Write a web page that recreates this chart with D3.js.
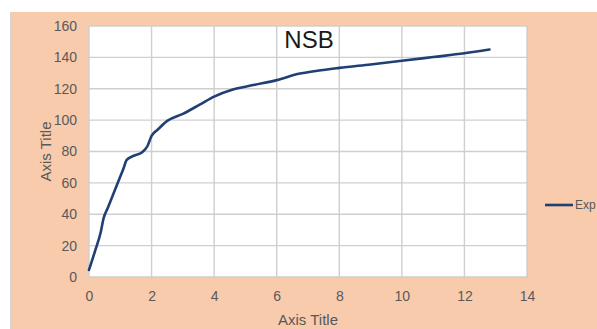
<!DOCTYPE html>
<html>
<head>
<meta charset="utf-8">
<script src="https://cdn.jsdelivr.net/npm/d3@7"></script>
<style>
  html, body { margin: 0; padding: 0; background: #ffffff; }
  svg { display: block; }
  text { font-family: "Liberation Sans Narrow", "Liberation Sans", sans-serif; fill: #595959; }
</style>
</head>
<body>
<svg id="chart" width="597" height="329"></svg>
<script>
// Series "Exp": x and y values along the curve
const expX = [0, 0.2, 0.38, 0.46, 0.6, 0.8, 1.0, 1.1, 1.2, 1.4, 1.7, 1.87, 2.0, 2.2, 2.5, 3.0, 3.55, 4.0, 4.6, 5.3, 6.0, 6.7, 7.3, 8.0, 9.0, 10.0, 11.0, 12.0, 12.8];
const expY = [4.5, 17, 29, 37, 44, 54, 64, 69, 74.5, 77, 79.5, 83.5, 90, 94, 99.5, 104, 110, 115, 119.5, 122.5, 125.5, 129.5, 131.5, 133.3, 135.5, 137.8, 140.2, 142.6, 145];

// Axis ticks
const xTicks = [0, 2, 4, 6, 8, 10, 12, 14];
const yTicks = [0, 20, 40, 60, 80, 100, 120, 140, 160];

const chartTitle = "NSB";
const xTitle = "Axis Title";
const yTitle = "Axis Title";
const seriesName = "Exp";

const svg = d3.select("#chart");
const W = 597, H = 329;
const plot = { left: 89, top: 26, right: 527, bottom: 277 };

// chart background
svg.append("rect").attr("x", 11).attr("y", 12).attr("width", W - 11).attr("height", H - 12)
  .attr("fill", "#f8cbad");
svg.append("line").attr("x1", 10.5).attr("x2", 10.5).attr("y1", 12).attr("y2", H)
  .attr("stroke", "#d4d4d4").attr("stroke-width", 1);

const x = d3.scaleLinear().domain([0, 14]).range([plot.left, plot.right]);
const y = d3.scaleLinear().domain([0, 160]).range([plot.bottom, plot.top]);

// plot area
svg.append("rect").attr("x", plot.left + 1).attr("y", plot.top + 1)
  .attr("width", plot.right - plot.left).attr("height", plot.bottom - plot.top)
  .attr("fill", "#d8c0b0").attr("opacity", 0.6);
svg.append("rect").attr("x", plot.left).attr("y", plot.top)
  .attr("width", plot.right - plot.left).attr("height", plot.bottom - plot.top)
  .attr("fill", "#ffffff");

// gridlines
const grid = svg.append("g").attr("stroke", "#cfcfcf").attr("stroke-width", 1.4);
grid.selectAll("line.h").data(yTicks).join("line").attr("class", "h")
  .attr("x1", plot.left).attr("x2", plot.right)
  .attr("y1", d => y(d)).attr("y2", d => y(d));
grid.selectAll("line.v").data(xTicks).join("line").attr("class", "v")
  .attr("y1", plot.top).attr("y2", plot.bottom)
  .attr("x1", d => x(d)).attr("x2", d => x(d));

// axes (labels only, no tick marks)
const xAxis = svg.append("g").attr("transform", `translate(0,${plot.bottom})`)
  .call(d3.axisBottom(x).tickValues(xTicks).tickSize(0).tickPadding(14));
xAxis.select(".domain").remove();
xAxis.selectAll("text").style("font-size", "14px").style("fill", "#595959")
  .style("font-family", '"Liberation Sans Narrow", sans-serif');

const yAxis = svg.append("g").attr("transform", `translate(${plot.left},0)`)
  .call(d3.axisLeft(y).tickValues(yTicks).tickSize(0).tickPadding(12));
yAxis.select(".domain").remove();
yAxis.selectAll("text").style("font-size", "14px").style("fill", "#595959")
  .style("font-family", '"Liberation Sans Narrow", sans-serif');

// series line
const pts = expX.map((v, i) => [v, expY[i]]);
const line = d3.line().x(d => x(d[0])).y(d => y(d[1])).curve(d3.curveMonotoneX);
svg.append("path").datum(pts).attr("d", line)
  .attr("fill", "none").attr("stroke", "#203f73").attr("stroke-width", 2.6)
  .attr("stroke-linejoin", "round").attr("stroke-linecap", "round");

// titles
svg.append("text").attr("x", 309).attr("y", 48).attr("text-anchor", "middle")
  .style("font-size", "24px").style("fill", "#1a1a1a").text(chartTitle);
svg.append("text").attr("x", 308).attr("y", 325).attr("text-anchor", "middle")
  .style("font-size", "15px").text(xTitle);
svg.append("text").attr("transform", `translate(51,${(plot.top + plot.bottom) / 2}) rotate(-90)`)
  .attr("text-anchor", "middle").style("font-size", "15px").text(yTitle);

// legend
svg.append("line").attr("x1", 545).attr("x2", 573).attr("y1", 205).attr("y2", 205)
  .attr("stroke", "#203f73").attr("stroke-width", 2.6);
svg.append("text").attr("x", 575).attr("y", 209).style("font-size", "12px").text(seriesName);
</script>
</body>
</html>
